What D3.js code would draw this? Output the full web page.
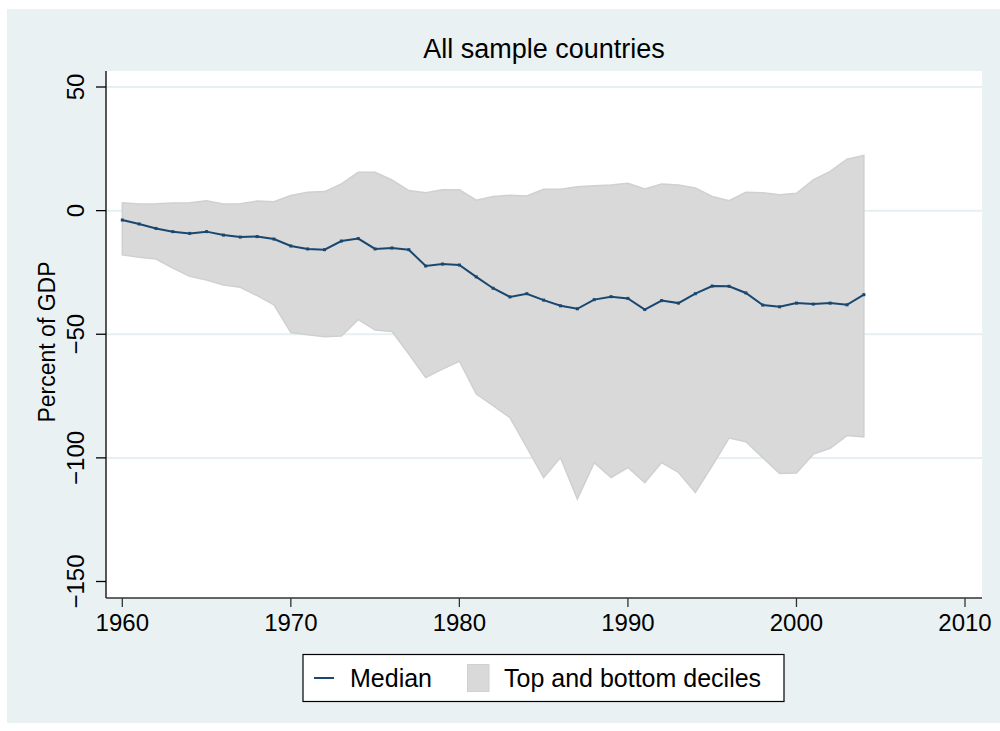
<!DOCTYPE html>
<html>
<head>
<meta charset="utf-8">
<script src="https://cdn.jsdelivr.net/npm/d3@7"></script>
<style>
	body { margin: 0; background: #fff; }
	text { font-family: "Liberation Sans", Arial, sans-serif; fill: #000; }
</style>
</head>
<body>
<svg id="chart" width="1000" height="731"></svg>
<script>
// data
var years = d3.range(1960, 2005)
var median = [-3.8, -5.4, -7.2, -8.5, -9.2, -8.5, -9.9, -10.7, -10.5, -11.5,
	-14.3, -15.5, -15.8, -12.3, -11.3, -15.5, -15.1, -15.8, -22.4, -21.6,
	-22.0, -26.8, -31.4, -34.9, -33.6, -36.2, -38.5, -39.7, -36.0, -34.8,
	-35.5, -40.0, -36.4, -37.4, -33.6, -30.5, -30.6, -33.3, -38.2, -38.9,
	-37.4, -37.8, -37.4, -38.1, -34.0]
var topDecile = [3.2, 2.7, 2.8, 3.1, 3.2, 4.0, 2.7, 2.8, 3.9, 3.6,
	6.1, 7.4, 7.7, 10.8, 15.5, 15.5, 12.4, 8.1, 7.2, 8.4,
	8.4, 4.2, 5.7, 6.2, 5.9, 8.6, 8.6, 9.7, 10.1, 10.4,
	11.1, 8.8, 10.8, 10.4, 9.2, 5.7, 4.0, 7.4, 7.2, 6.4,
	7.0, 12.4, 15.9, 20.8, 22.3]
var bottomDecile = [-17.9, -18.9, -19.6, -23.2, -26.6, -28.1, -30.1, -31.0, -34.4, -38.1,
	-49.3, -50.2, -51.0, -50.7, -44.1, -48.3, -48.9, -58.0, -67.5, -64.1,
	-60.9, -74.2, -78.9, -83.7, -95.8, -108.0, -99.9, -116.7, -101.9, -108.0,
	-103.9, -110.0, -101.9, -105.9, -114.0, -103.2, -92.0, -93.5, -99.9, -106.3,
	-106.1, -98.5, -96.1, -91.0, -91.5]
var xTicks = [1960, 1970, 1980, 1990, 2000, 2010]
var yTicks = [50, 0, -50, -100, -150]

var rows = years.map(function(y, i){
	return { year: y, med: median[i], hi: topDecile[i], lo: bottomDecile[i] }
})

var svg = d3.select("#chart")
var plot = { left: 106, top: 71, right: 982, bottom: 598 }

var x = d3.scaleLinear().domain([1960, 2010]).range([122.3, 965])
var y = d3.scaleLinear().domain([-150, 50]).range([581.5, 87])

// graph region
svg.append("rect")
	.attr("x", 7).attr("y", 9)
	.attr("width", 993).attr("height", 714)
	.attr("fill", "#eaf1f3")

svg.append("rect")
	.attr("x", plot.left).attr("y", plot.top)
	.attr("width", plot.right - plot.left).attr("height", plot.bottom - plot.top)
	.attr("fill", "#fff")

// grid
svg.append("g").selectAll("line")
		.data(yTicks.slice(0, 4))
	.enter().append("line")
		.attr("x1", plot.left)
		.attr("x2", plot.right)
		.attr("y1", function(d){ return y(d) })
		.attr("y2", function(d){ return y(d) })
		.attr("stroke", "#e6eff1")
		.attr("stroke-width", 2)

// band
var area = d3.area()
	.x(function(d){ return x(d.year) })
	.y0(function(d){ return y(d.lo) })
	.y1(function(d){ return y(d.hi) })

svg.append("path")
	.datum(rows)
	.attr("d", area)
	.attr("fill", "#d9d9d9")
	.attr("stroke", "#d0d0d0")
	.attr("stroke-width", 1.5)

// median
var line = d3.line()
	.x(function(d){ return x(d.year) })
	.y(function(d){ return y(d.med) })

svg.append("path")
	.datum(rows)
	.attr("d", line)
	.attr("fill", "none")
	.attr("stroke", "#1a476f")
	.attr("stroke-width", 2)

svg.append("g").selectAll("rect")
		.data(rows)
	.enter().append("rect")
		.attr("x", function(d){ return x(d.year) - 1.5 })
		.attr("y", function(d){ return y(d.med) - 1.5 })
		.attr("width", 3).attr("height", 3)
		.attr("fill", "#1a476f")

// axes
var yAxis = svg.append("g")
yAxis.append("line")
	.attr("x1", plot.left).attr("x2", plot.left)
	.attr("y1", plot.top).attr("y2", plot.bottom)
	.attr("stroke", "#000").attr("stroke-width", 1.3)
yAxis.selectAll(".tick")
		.data(yTicks)
	.enter().append("line")
		.attr("class", "tick")
		.attr("x1", 96).attr("x2", plot.left)
		.attr("y1", function(d){ return y(d) })
		.attr("y2", function(d){ return y(d) })
		.attr("stroke", "#000").attr("stroke-width", 1.3)
yAxis.selectAll(".label")
		.data(yTicks)
	.enter().append("text")
		.attr("class", "label")
		.attr("text-anchor", "middle")
		.attr("font-size", 24)
		.attr("transform", function(d){ return "translate(83.5," + y(d) + ") rotate(-90)" })
		.text(function(d){ return d < 0 ? "\u2212" + (-d) : d })

svg.append("text")
	.attr("text-anchor", "middle")
	.attr("font-size", 23)
	.attr("transform", "translate(55,342) rotate(-90)")
	.text("Percent of GDP")

var xAxis = svg.append("g")
xAxis.append("line")
	.attr("x1", plot.left).attr("x2", plot.right)
	.attr("y1", plot.bottom).attr("y2", plot.bottom)
	.attr("stroke", "#333").attr("stroke-width", 1.5)
xAxis.selectAll(".tick")
		.data(xTicks)
	.enter().append("line")
		.attr("class", "tick")
		.attr("x1", function(d){ return x(d) })
		.attr("x2", function(d){ return x(d) })
		.attr("y1", plot.bottom).attr("y2", 607)
		.attr("stroke", "#333").attr("stroke-width", 1.3)
xAxis.selectAll(".label")
		.data(xTicks)
	.enter().append("text")
		.attr("class", "label")
		.attr("x", function(d){ return x(d) })
		.attr("y", 631)
		.attr("text-anchor", "middle")
		.attr("font-size", 24)
		.text(function(d){ return d })

// title
svg.append("text")
	.attr("x", (plot.left + plot.right) / 2)
	.attr("y", 58)
	.attr("text-anchor", "middle")
	.attr("font-size", 27)
	.text("All sample countries")

// legend
var legend = svg.append("g")
legend.append("rect")
	.attr("x", 303).attr("y", 654.5)
	.attr("width", 481).attr("height", 47)
	.attr("fill", "#fff")
	.attr("stroke", "#000").attr("stroke-width", 1.2)
legend.append("line")
	.attr("x1", 314).attr("x2", 334)
	.attr("y1", 678).attr("y2", 678)
	.attr("stroke", "#1a476f").attr("stroke-width", 2)
legend.append("text")
	.attr("x", 350).attr("y", 687)
	.attr("font-size", 25)
	.text("Median")
legend.append("rect")
	.attr("x", 467.5).attr("y", 664.5)
	.attr("width", 21.5).attr("height", 27)
	.attr("fill", "#d9d9d9")
	.attr("stroke", "#d0d0d0").attr("stroke-width", 1)
legend.append("text")
	.attr("x", 504).attr("y", 687)
	.attr("font-size", 25)
	.text("Top and bottom deciles")
</script>
</body>
</html>
